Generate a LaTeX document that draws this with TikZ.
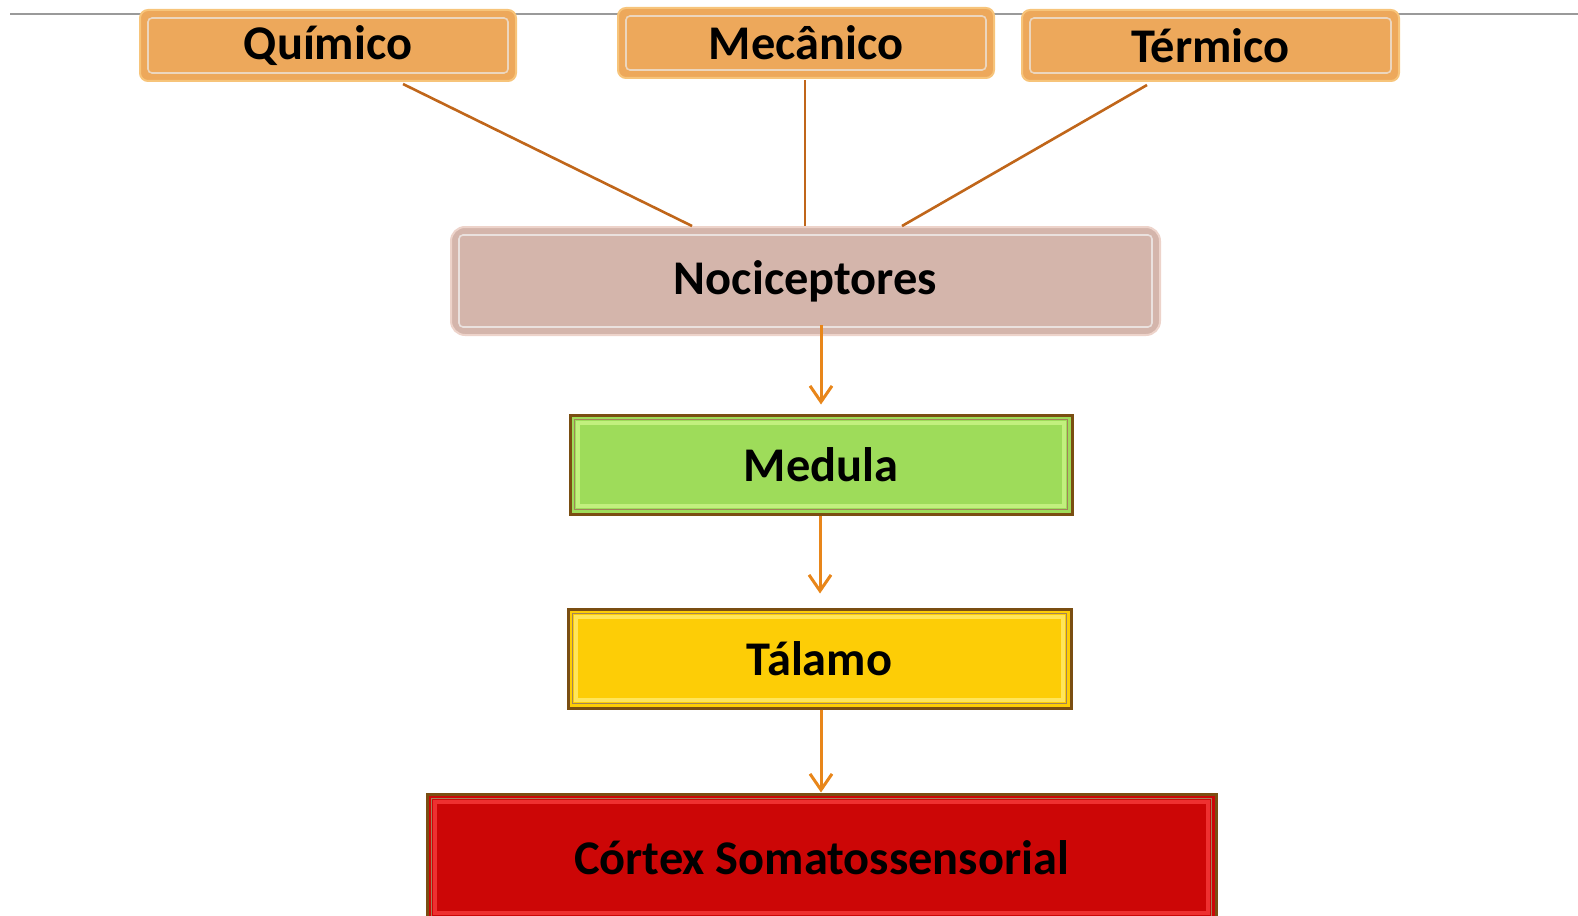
\documentclass[tikz,border=0pt]{standalone}
\usepackage{fontspec}
\setmainfont{Carlito}
\usetikzlibrary{arrows.meta,calc}
\definecolor{orfill}{HTML}{EDA85B}
\definecolor{orlight}{HTML}{F7C47A}
\definecolor{ordark}{HTML}{C98A45}
\definecolor{nocfill}{HTML}{D4B5AB}
\definecolor{noclight}{HTML}{EDD3CA}
\definecolor{nocdark}{HTML}{B89A91}
\definecolor{medfill}{HTML}{9EDC5A}
\definecolor{medlight}{HTML}{C2F07E}
\definecolor{talfill}{HTML}{FDCD06}
\definecolor{tallight}{HTML}{FFE55A}
\definecolor{corfill}{HTML}{CC0606}
\definecolor{corlight}{HTML}{EE3030}
\definecolor{bevdark}{HTML}{7A4E12}
\definecolor{linebrown}{HTML}{C0661A}
\definecolor{arroworange}{HTML}{E8861A}
\definecolor{topline}{HTML}{9A9A9A}
\tikzset{
  lbl/.style={font=\fontsize{24.2}{28}\selectfont\bfseries, text=black, inner sep=0pt},
  softbox/.style args={#1/#2/#3}{lbl, fill=#1, draw=#2, line width=1pt, rounded corners=4pt,
    path picture={\draw[#3, line width=0.8pt, rounded corners=2pt]
      ([shift={(4pt,-4pt)}]path picture bounding box.north west) rectangle
      ([shift={(-4pt,4pt)}]path picture bounding box.south east);}},
  bevbox/.style args={#1/#2}{lbl, fill=#1, draw=bevdark, line width=1.5pt,
    path picture={
      \draw[#2, line width=2pt]
        ([shift={(4pt,-4pt)}]path picture bounding box.north west) rectangle
        ([shift={(-4pt,4pt)}]path picture bounding box.south east);
      \draw[bevdark!70, line width=0.8pt]
        ([shift={(2.2pt,-2.2pt)}]path picture bounding box.north west) rectangle
        ([shift={(-2.2pt,2.2pt)}]path picture bounding box.south east);}},
  feed/.style={draw=linebrown, line width=1.3pt},
  flow/.style={draw=arroworange, line width=1.5pt, -{Straight Barb[length=8pt,width=11pt,line width=1.5pt]}}
}
\begin{document}
\begin{tikzpicture}[x=0.5pt,y=-0.5pt]
\useasboundingbox (0,0) rectangle (1578,915);
\clip (0,0) rectangle (1578,915);
\coordinate (tl) at (10,14);
\coordinate (tr) at (1578,14);
\draw[topline, line width=0.8pt] (tl) -- (tr);

\node[softbox=orfill/orlight/ordark!35, minimum width=188pt, minimum height=35.5pt] (q) at (328,45.5) {Químico};
\node[softbox=orfill/orlight/ordark!35, minimum width=188pt, minimum height=35pt] (m) at (806,43) {Mecânico};
\node[softbox=orfill/orlight/ordark!35, minimum width=188.5pt, minimum height=35.5pt] (t) at (1210.5,45.5) {Térmico};

\node[softbox=nocfill/noclight/nocdark!30, rounded corners=7pt, minimum width=354.5pt, minimum height=54pt] (n) at (805.5,281) {Nociceptores};

\node[bevbox=medfill/medlight, minimum width=251pt, minimum height=49.5pt] (med) at (821,464.5) {Medula};
\node[bevbox=talfill/tallight, minimum width=251.5pt, minimum height=49.5pt] (tal) at (819.5,658.5) {Tálamo};
\node[bevbox=corfill/corlight, minimum width=394.5pt, minimum height=63.5pt] (cor) at (821.5,857.5) {Córtex Somatossensorial};

\draw[feed] ([shift={(37.5pt,-1pt)}]q.south) -- ([xshift=-56.75pt]n.north);
\draw[feed] ([shift={(-0.5pt,-0.5pt)}]m.south) -- ([xshift=-0.25pt]n.north);
\draw[feed] ([shift={(-31.75pt,-1.5pt)}]t.south) -- ([xshift=48.25pt]n.north);

\draw[flow] ([shift={(7.75pt,5.5pt)}]n.south) -- ([shift={(0pt,4.5pt)}]med.north);
\draw[flow] ([xshift=-0.5pt]med.south) -- ([shift={(0.25pt,7pt)}]tal.north);
\draw[flow] ([xshift=0.75pt]tal.south) -- ([xshift=-0.25pt]cor.north);
\end{tikzpicture}
\end{document}
